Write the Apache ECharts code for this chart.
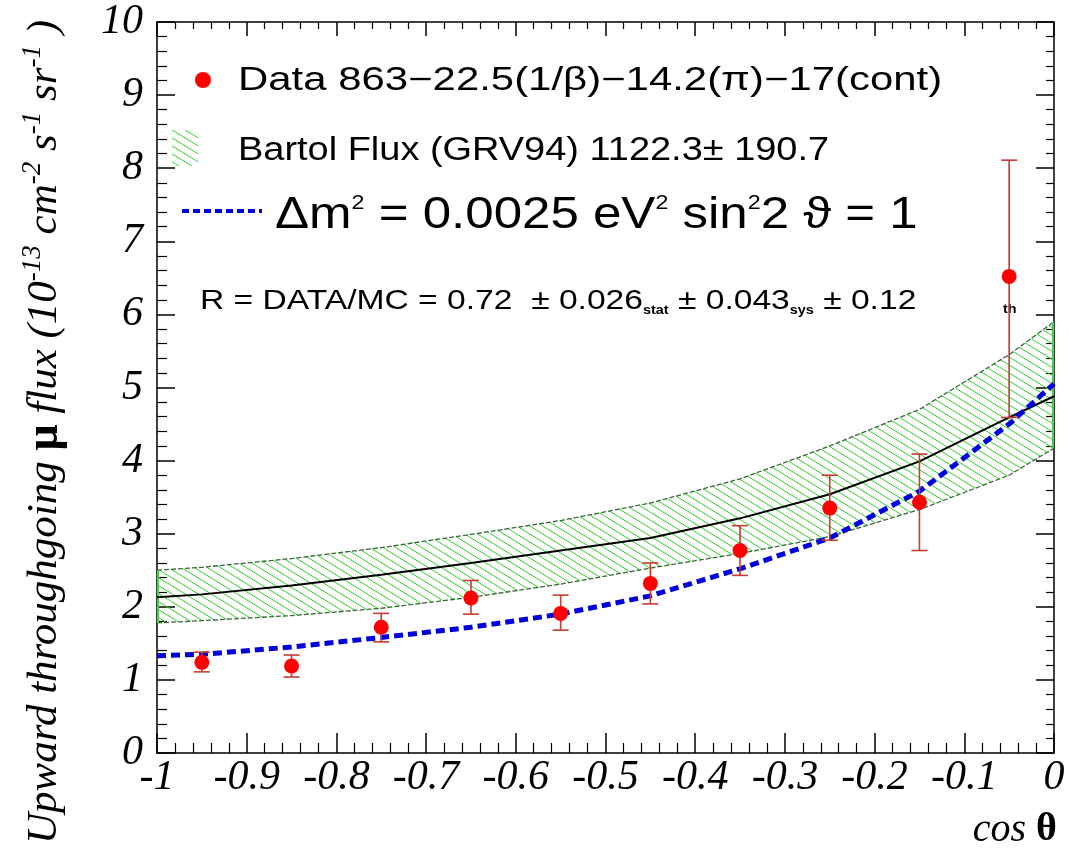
<!DOCTYPE html>
<html>
<head>
<meta charset="utf-8">
<script src="https://cdn.jsdelivr.net/npm/echarts/dist/echarts.min.js"></script>
<style>
    html, body { margin: 0; padding: 0; background: #fff; }
    #chart { width: 1069px; height: 852px; }
</style>
</head>
<body>
<div id="chart"></div>
<script>
    // data points (bin centres in cos theta)
    const binX = [-0.95, -0.85, -0.75, -0.65, -0.55, -0.45, -0.35, -0.25, -0.15, -0.05]
    const dataFlux = [1.24, 1.19, 1.72, 2.12, 1.91, 2.32, 2.77, 3.35, 3.43, 6.52]
    const dataErrLow = [1.11, 1.04, 1.52, 1.90, 1.68, 2.04, 2.43, 2.91, 2.77, 4.59]
    const dataErrHigh = [1.38, 1.34, 1.91, 2.36, 2.16, 2.60, 3.11, 3.80, 4.09, 8.11]

    // MC curves
    const curveX = [-1, -0.95, -0.85, -0.75, -0.65, -0.55, -0.45, -0.35, -0.25, -0.15, -0.05, 0]
    const bartolMid = [2.13, 2.17, 2.29, 2.44, 2.60, 2.77, 2.94, 3.21, 3.54, 3.99, 4.59, 4.88]
    const bartolHigh = [2.50, 2.54, 2.66, 2.81, 2.99, 3.18, 3.42, 3.75, 4.20, 4.70, 5.45, 5.90]
    const bartolLow = [1.78, 1.81, 1.88, 1.98, 2.13, 2.31, 2.53, 2.73, 2.96, 3.33, 3.80, 4.17]
    const oscFlux = [1.33, 1.35, 1.45, 1.58, 1.72, 1.90, 2.15, 2.52, 2.94, 3.58, 4.50, 5.05]

    const serif = 'Liberation Serif, Times New Roman, serif'
    const sans = 'Liberation Sans, Arial, sans-serif'

    function makeHatch() {
        const c = document.createElement('canvas')
        const w = 13, h = 8
        c.width = w
        c.height = h
        const g = c.getContext('2d')
        g.strokeStyle = '#2ed02e'
        g.lineWidth = 1
        for (const k of [-1, 0, 1]) {
            g.beginPath()
            g.moveTo(0, k * h)
            g.lineTo(w, k * h + h)
            g.stroke()
        }
        return c
    }
    const hatch = { image: makeHatch(), repeat: 'repeat' }

    const chart = echarts.init(document.getElementById('chart'))

    const tickLabel = {
        fontFamily: serif,
        fontStyle: 'italic',
        fontSize: 42,
        color: '#000'
    }
    const axisLine = { show: true, onZero: false, lineStyle: { color: '#000', width: 1.5 } }

    const options = {
        animation: false,
        grid: {
            left: 157,
            right: 15,
            top: 22,
            bottom: 99,
            outerBoundsMode: 'none'
        },
        xAxis: [
            {
                type: 'value',
                min: -1,
                max: 0,
                interval: 0.1,
                position: 'bottom',
                axisLine: axisLine,
                axisTick: { inside: true, length: 20, lineStyle: { color: '#000', width: 1.5 } },
                minorTick: { show: true, splitNumber: 5, length: 10, lineStyle: { color: '#000', width: 1.2 } },
                splitLine: { show: false },
                minorSplitLine: { show: false },
                axisLabel: Object.assign({}, tickLabel, {
                    margin: 4,
                    formatter: v => String(Number(v.toFixed(1)))
                })
            },
            {
                type: 'value',
                min: -1,
                max: 0,
                interval: 0.1,
                position: 'top',
                axisLine: axisLine,
                axisTick: { inside: true, length: 14, lineStyle: { color: '#000', width: 1.5 } },
                minorTick: { show: true, splitNumber: 5, length: 7, lineStyle: { color: '#000', width: 1.2 } },
                splitLine: { show: false },
                axisLabel: { show: false }
            }
        ],
        yAxis: [
            {
                type: 'value',
                min: 0,
                max: 10,
                interval: 1,
                position: 'left',
                axisLine: axisLine,
                axisTick: { inside: true, length: 18, lineStyle: { color: '#000', width: 1.5 } },
                minorTick: { show: true, splitNumber: 5, length: 10, lineStyle: { color: '#000', width: 1.2 } },
                splitLine: { show: false },
                axisLabel: Object.assign({}, tickLabel, { margin: 14 })
            },
            {
                type: 'value',
                min: 0,
                max: 10,
                interval: 1,
                position: 'right',
                axisLine: axisLine,
                axisTick: { inside: true, length: 18, lineStyle: { color: '#000', width: 1.5 } },
                minorTick: { show: true, splitNumber: 5, length: 8, lineStyle: { color: '#000', width: 1.2 } },
                splitLine: { show: false },
                axisLabel: { show: false }
            }
        ],
        series: [
            {
                name: 'Bartol Flux',
                type: 'custom',
                silent: true,
                z: 1,
                encode: { x: 0, y: [1, 2] },
                data: curveX.map((x, i) => [x, bartolLow[i], bartolHigh[i]]),
                renderItem: (params, api) => {
                    if (params.dataIndex !== 0) return
                    const n = params.dataInsideLength
                    const up = []
                    const lo = []
                    for (let i = 0; i < n; i++) {
                        up.push(api.coord([api.value(0, i), api.value(2, i)]))
                        lo.push(api.coord([api.value(0, i), api.value(1, i)]))
                    }
                    const poly = up.concat(lo.slice().reverse())
                    const last = n - 1
                    const edge = { stroke: '#3a6a3a', lineWidth: 1.3, fill: 'none', lineDash: [5, 2] }
                    return {
                        type: 'group',
                        children: [
                            { type: 'polygon', shape: { points: poly }, style: { fill: hatch, stroke: null } },
                            { type: 'polyline', shape: { points: up }, style: edge },
                            { type: 'polyline', shape: { points: lo }, style: edge },
                            { type: 'line', shape: { x1: up[0][0] + 1, y1: up[0][1], x2: lo[0][0] + 1, y2: lo[0][1] }, style: { stroke: '#44d044', lineWidth: 2 } },
                            { type: 'line', shape: { x1: up[last][0] - 1, y1: up[last][1], x2: lo[last][0] - 1, y2: lo[last][1] }, style: { stroke: '#44d044', lineWidth: 2 } }
                        ]
                    }
                }
            },
            {
                name: 'Bartol central',
                type: 'line',
                z: 2,
                symbol: 'none',
                silent: true,
                data: curveX.map((x, i) => [x, bartolMid[i]]),
                lineStyle: { color: '#000', width: 2 }
            },
            {
                name: 'oscillation',
                type: 'line',
                z: 3,
                symbol: 'none',
                silent: true,
                data: curveX.map((x, i) => [x, oscFlux[i]]),
                lineStyle: { color: '#0000dd', width: 5, type: [9, 5] }
            },
            {
                name: 'errors',
                type: 'custom',
                z: 4,
                silent: true,
                encode: { x: 0, y: [1, 2] },
                data: binX.map((x, i) => [x, dataErrLow[i], dataErrHigh[i]]),
                renderItem: (params, api) => {
                    const x = api.value(0)
                    const lo = api.coord([x, api.value(1)])
                    const hi = api.coord([x, api.value(2)])
                    const cw = 8
                    const st = { stroke: '#c83a32', lineWidth: 1.6 }
                    return {
                        type: 'group',
                        children: [
                            { type: 'line', shape: { x1: lo[0], y1: lo[1], x2: hi[0], y2: hi[1] }, style: st },
                            { type: 'line', shape: { x1: lo[0] - cw, y1: lo[1], x2: lo[0] + cw, y2: lo[1] }, style: st },
                            { type: 'line', shape: { x1: hi[0] - cw, y1: hi[1], x2: hi[0] + cw, y2: hi[1] }, style: st }
                        ]
                    }
                }
            },
            {
                name: 'Data',
                type: 'scatter',
                z: 5,
                symbol: 'circle',
                symbolSize: 15,
                data: binX.map((x, i) => [x, dataFlux[i]]),
                itemStyle: { color: '#ff0000', opacity: 1 }
            }
        ],
        graphic: [
            // legend
            { type: 'circle', shape: { cx: 203, cy: 80, r: 8 }, style: { fill: '#ff0000' } },
            {
                type: 'text', x: 238, y: 81, scaleX: 1.27,
                style: { text: 'Data 863\u221222.5(1/\u03b2)\u221214.2(\u03c0)\u221217(cont)', font: '33px ' + sans, fill: '#000', verticalAlign: 'middle' }
            },
            { type: 'rect', shape: { x: 172, y: 130, width: 26, height: 36 }, style: { fill: hatch } },
            {
                type: 'text', x: 238, y: 151, scaleX: 1.15,
                style: { text: 'Bartol Flux (GRV94) 1122.3\u00b1 190.7', font: '33px ' + sans, fill: '#000', verticalAlign: 'middle' }
            },
            { type: 'line', shape: { x1: 182, y1: 211, x2: 262, y2: 211 }, style: { stroke: '#0000dd', lineWidth: 4, lineDash: [7, 4] } },
            {
                type: 'text', x: 275, y: 216, scaleX: 1.16,
                style: {
                    text: '{n|\u0394m}{s|2}{n| = 0.0025 eV}{s|2}{n| sin}{s|2}{n|2 \u03d1 = 1}',
                    verticalAlign: 'middle',
                    rich: {
                        n: { fontFamily: sans, fontSize: 44, lineHeight: 46, color: '#000' },
                        s: { fontFamily: sans, fontSize: 20, lineHeight: 22, verticalAlign: 'top', color: '#000' }
                    }
                }
            },
            // ratio annotation
            {
                type: 'text', x: 200, y: 301, scaleX: 1.2,
                style: {
                    text: '{n|R = DATA/MC = 0.72  \u00b1 0.026}{s|stat}{n| \u00b1 0.043}{s|sys}{n| \u00b1 0.12}',
                    verticalAlign: 'middle',
                    rich: {
                        n: { fontFamily: sans, fontSize: 28, lineHeight: 32, color: '#000' },
                        s: { fontFamily: sans, fontSize: 12, fontWeight: 'bold', lineHeight: 12, verticalAlign: 'bottom', color: '#000' }
                    }
                }
            },
            {
                type: 'text', x: 1003, y: 310, scaleX: 1.2,
                style: { text: 'th', font: 'bold 12px ' + sans, fill: '#000', verticalAlign: 'middle' }
            },
            // axis titles
            {
                type: 'text', x: 45, y: 432, rotation: Math.PI / 2,
                style: {
                    text: '{i|Upward throughgoing }{m|\u03bc}{i| flux (10}{p|-13}{i| cm}{p|-2}{i| s}{p|-1}{i| sr}{p|-1}{i| )}',
                    align: 'center',
                    verticalAlign: 'middle',
                    rich: {
                        i: { fontFamily: serif, fontStyle: 'italic', fontSize: 43, lineHeight: 52, color: '#000' },
                        m: { fontFamily: serif, fontWeight: 'bold', fontSize: 46, lineHeight: 52, color: '#000' },
                        p: { fontFamily: serif, fontStyle: 'italic', fontSize: 27, lineHeight: 27, verticalAlign: 'top', color: '#000' }
                    }
                }
            },
            {
                type: 'text', x: 1057, y: 830,
                style: {
                    text: '{i|cos }{t|\u03b8}',
                    align: 'right',
                    verticalAlign: 'middle',
                    rich: {
                        i: { fontFamily: serif, fontStyle: 'italic', fontSize: 40, color: '#000' },
                        t: { fontFamily: serif, fontWeight: 'bold', fontSize: 40, color: '#000' }
                    }
                }
            }
        ]
    }
    chart.setOption(options)
</script>
</body>
</html>
